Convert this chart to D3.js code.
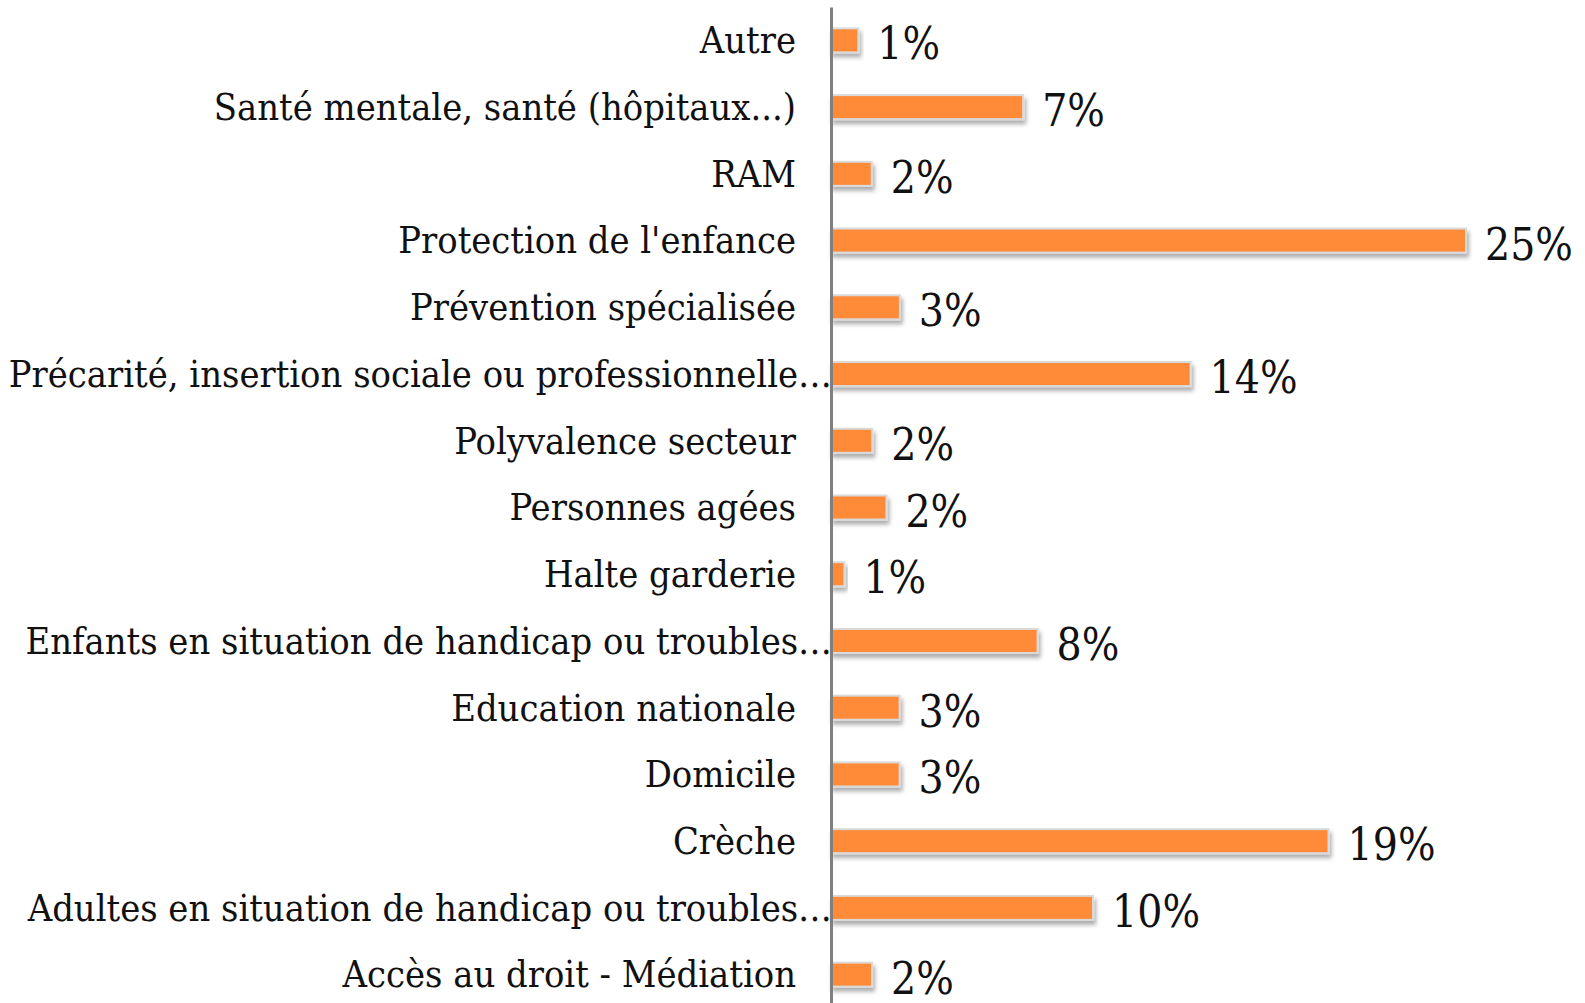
<!DOCTYPE html>
<html>
<head>
<meta charset="utf-8">
<script src="https://cdn.jsdelivr.net/npm/d3@7"></script>
<style>
  html, body { margin: 0; padding: 0; background: #fff; }
  svg text { font-family: "DejaVu Serif Condensed", "DejaVu Serif", serif; font-stretch: condensed; fill: #111; }
</style>
</head>
<body>
<svg id="chart" width="1585" height="1003"></svg>
<script>
// categories, top to bottom
var categories = [
  "Autre",
  "Santé mentale, santé (hôpitaux...)",
  "RAM",
  "Protection de l'enfance",
  "Prévention spécialisée",
  "Précarité, insertion sociale ou professionnelle…",
  "Polyvalence secteur",
  "Personnes agées",
  "Halte garderie",
  "Enfants en situation de handicap ou troubles…",
  "Education nationale",
  "Domicile",
  "Crèche",
  "Adultes en situation de handicap ou troubles…",
  "Accès au droit - Médiation"
];
// share in %
var values = [1.06, 7.45, 1.58, 24.62, 2.67, 13.94, 1.60, 2.15, 0.52, 8.01, 2.66, 2.66, 19.29, 10.16, 1.59];

var data = categories.map(function (c, i) { return { cat: c, value: values[i] }; });

var svg = d3.select('#chart');
var axisX = 831;

var defs = svg.append('defs');
defs.append('filter')
  .attr('id', 'barShadow')
  .attr('x', '-10%').attr('y', '-40%')
  .attr('width', '130%').attr('height', '200%')
  .append('feDropShadow')
  .attr('dx', 2).attr('dy', 4)
  .attr('stdDeviation', 2.2)
  .attr('flood-color', '#000')
  .attr('flood-opacity', 0.32);

var x = d3.scaleLinear()
  .domain([0, d3.max(values)])
  .range([0, 635]);

var y = d3.scaleBand()
  .domain(categories)
  .range([7, 1008])
  .paddingInner(0.64)
  .paddingOuter(0.32);

var g = svg.append('g').attr('transform', 'translate(' + axisX + ',0)');

//------------------------------ bars ------------------------------//
g.selectAll('.bar')
  .data(data)
  .enter().append('rect')
  .attr('class', 'bar')
  .attr('x', 0)
  .attr('y', function (d) { return y(d.cat); })
  .attr('width', function (d) { return x(d.value); })
  .attr('height', y.bandwidth())
  .attr('fill', '#FF8A38')
  .attr('stroke', '#dadada')
  .attr('stroke-width', 2)
  .attr('filter', 'url(#barShadow)');

// value labels
g.selectAll('.val')
  .data(data)
  .enter().append('text')
  .attr('class', 'val')
  .attr('x', function (d) { return x(d.value) + 19; })
  .attr('y', function (d) { return y(d.cat) + y.bandwidth() / 2 + 19; })
  .style('font-size', '44px')
  .text(function (d) { return Math.round(d.value) + '%'; });

//------------------------------ axis ------------------------------//
var axis = g.append('g')
  .attr('class', 'y axis')
  .call(d3.axisLeft(y).tickSize(0).tickSizeOuter(0).tickPadding(35));

axis.select('.domain')
  .attr('stroke', '#7f7f7f')
  .attr('stroke-width', 3);

axis.selectAll('.tick text')
  .style('font-size', '37.7px')
  .attr('fill', '#111')
  .attr('dy', '0.34em')
  // truncated labels run up to the axis, like the original
  .attr('x', function (d) { return d.slice(-1) === '…' ? 1 : -35; });
</script>
</body>
</html>
